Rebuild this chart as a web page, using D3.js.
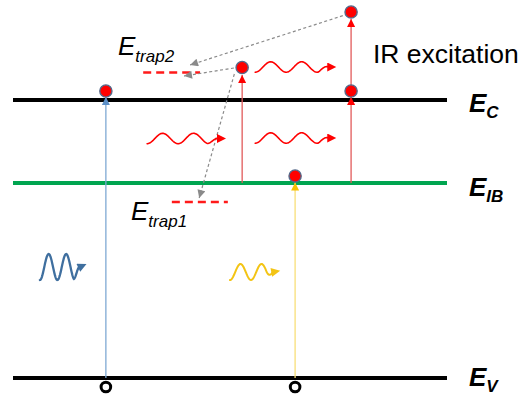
<!DOCTYPE html>
<html><head><meta charset="utf-8">
<script src="https://cdn.jsdelivr.net/npm/d3@7"></script>
<style>body{margin:0;background:#fff} svg{display:block}</style>
</head><body>
<svg id="c" width="522" height="395"></svg>
<script>
// ---------------- data ----------------
const bandSubs   = ["V", "IB", "C"];
const bandEnergy = [0, 1.95, 2.78];

const trapSubs   = ["trap2", "trap1"];
const trapEnergy = [3.055, 1.76];
const trapStart  = [30.0, 36.6];
const trapEnd    = [43.1, 49.5];

const electronX = [21.4, 52.8, 77.9, 77.9, 65.0];
const electronE = [2.87, 3.105, 3.66, 2.87, 2.02];
const holeX = [21.4, 65.0];
const holeE = [-0.09, -0.09];

const excKind = ["blue", "yellow", "red", "red", "red"];
const excX    = [21.4, 65.0, 52.8, 77.9, 77.9];
const excFrom = [0, 0, 1.95, 1.95, 2.87];
const excTo   = [2.81, 1.955, 3.03, 2.81, 3.59];

const relFromX = [77.2, 50.9, 51.0];
const relFromE = [3.64, 3.10, 3.04];
const relToX   = [40.8, 39.4, 42.9];
const relToE   = [3.13, 3.02, 1.80];

const photonKind = ["blue", "yellow", "red", "red", "red"];
const photonX0 = [6.2, 50.0, 55.8, 30.9, 55.8];
const photonX1 = [17.5, 62.0, 74.9, 49.5, 74.9];
const photonE  = [1.11, 1.06, 3.11, 2.395, 2.40];

const irLabel = "IR excitation";

// ---------------- scales ----------------
const x = d3.scaleLinear().domain([0, 100]).range([13, 447]);
const y = d3.scaleLinear().domain([0, 3.78]).range([378, 0]);

const svg = d3.select("#c");
const defs = svg.append("defs");
function marker(id, color, len, wid) {
  defs.append("marker").attr("id", id)
    .attr("viewBox", "0 0 10 10").attr("refX", 10).attr("refY", 5)
    .attr("markerUnits", "userSpaceOnUse")
    .attr("markerWidth", len).attr("markerHeight", wid)
    .attr("orient", "auto")
    .append("path").attr("d", "M0,0 L10,5 L0,10 Z").attr("fill", color);
}
function markerFixed(id, color, len, wid, ang) {
  defs.append("marker").attr("id", id)
    .attr("viewBox", "0 0 10 10").attr("refX", 2).attr("refY", 5)
    .attr("markerUnits", "userSpaceOnUse")
    .attr("markerWidth", len).attr("markerHeight", wid)
    .attr("orient", ang)
    .append("path").attr("d", "M0,0 L10,5 L0,10 Z").attr("fill", color);
}
const excStyle = {
  blue:   {line: "#7fa9d3", head: "#5b8fc7", w: 1.3},
  yellow: {line: "#f8df78", head: "#f5c000", w: 1.3},
  red:    {line: "#e25b5b", head: "#ff0000", w: 1.3}
};
Object.keys(excStyle).forEach(k => marker("exc-" + k, excStyle[k].head, 9, 8));
marker("rel", "#8a8a8a", 10, 8);

const photonStyle = {
  blue:   {color: "#3f6f9f", amp: 13, wl: 17.5, w: 2.3, ang: -25},
  yellow: {color: "#f3c414", amp: 8, wl: 21, w: 2.0, ang: -10},
  red:    {color: "#ff0000", amp: 5.2, wl: 31, w: 1.6, ang: 0}
};
Object.keys(photonStyle).forEach(k => markerFixed("ph-" + k, photonStyle[k].color, 11, 9, photonStyle[k].ang));

// ---------------- bands ----------------
const bandColor = ["#000000", "#00a550", "#000000"];
svg.selectAll("line.band").data(bandEnergy).join("line")
  .attr("class", "band")
  .attr("x1", x(0)).attr("x2", x(100))
  .attr("y1", d => y(d)).attr("y2", d => y(d))
  .attr("stroke", (d, i) => bandColor[i]).attr("stroke-width", 3.8);

// band labels
const bandLabelDy = [8, 13, 12];
bandEnergy.forEach((e, i) => {
  const t = svg.append("text")
    .attr("x", 469).attr("y", y(e) + bandLabelDy[i])
    .attr("font-family", "Liberation Sans, Arial, sans-serif")
    .attr("font-weight", "bold").attr("font-style", "italic")
    .attr("font-size", 26).attr("fill", "#000");
  t.append("tspan").text("E");
  t.append("tspan").attr("dy", 6).attr("font-size", 17).text(bandSubs[i]);
});

// ---------------- traps ----------------
svg.selectAll("line.trap").data(trapEnergy).join("line")
  .attr("class", "trap")
  .attr("x1", (d, i) => x(trapStart[i])).attr("x2", (d, i) => x(trapEnd[i]))
  .attr("y1", d => y(d)).attr("y2", d => y(d))
  .attr("stroke", "#ff1a1a").attr("stroke-width", 2.5)
  .attr("stroke-dasharray", "8,5");

const trapLabelPos = [[118, 55], [131, 220]];
trapSubs.forEach((s, i) => {
  const t = svg.append("text")
    .attr("x", trapLabelPos[i][0]).attr("y", trapLabelPos[i][1])
    .attr("font-family", "Liberation Sans, Arial, sans-serif")
    .attr("font-style", "italic").attr("font-size", 26).attr("fill", "#000");
  t.append("tspan").text("E");
  t.append("tspan").attr("dy", 7).attr("font-size", 17).text(s);
});

// ---------------- excitations (vertical arrows) ----------------
svg.selectAll("line.exc").data(excX).join("line")
  .attr("class", "exc")
  .attr("x1", d => x(d)).attr("x2", d => x(d))
  .attr("y1", (d, i) => y(excFrom[i])).attr("y2", (d, i) => y(excTo[i]))
  .attr("stroke", (d, i) => excStyle[excKind[i]].line)
  .attr("stroke-width", (d, i) => excStyle[excKind[i]].w)
  .attr("marker-end", (d, i) => "url(#exc-" + excKind[i] + ")");

// ---------------- relaxation / trapping (gray dotted arrows) ----------------
svg.selectAll("line.rel").data(relFromX).join("line")
  .attr("class", "rel")
  .attr("x1", d => x(d)).attr("y1", (d, i) => y(relFromE[i]))
  .attr("x2", (d, i) => x(relToX[i])).attr("y2", (d, i) => y(relToE[i]))
  .attr("stroke", "#8a8a8a").attr("stroke-width", 1.2)
  .attr("stroke-dasharray", "3,2.5")
  .attr("marker-end", "url(#rel)");

// ---------------- photons (wavy arrows) ----------------
photonKind.forEach((k, i) => {
  const st = photonStyle[k];
  const px0 = x(photonX0[i]), px1 = x(photonX1[i]) - 9, cy = y(photonE[i]);
  const pts = [];
  const n = 120;
  for (let j = 0; j <= n; j++) {
    const px = px0 + (px1 - px0) * j / n;
    const rem = px1 - px;
    const env = Math.min(1, rem / (st.wl * 0.35));
    pts.push([px, cy + st.amp * env * Math.cos(2 * Math.PI * (px - px0) / st.wl)]);
  }
  svg.append("path").attr("d", d3.line()(pts))
    .attr("fill", "none").attr("stroke", st.color)
    .attr("stroke-width", st.w).attr("stroke-linecap", "round")
    .attr("marker-end", "url(#ph-" + k + ")");
});

// ---------------- carriers ----------------
svg.selectAll("circle.hole").data(holeX).join("circle")
  .attr("class", "hole")
  .attr("cx", d => x(d)).attr("cy", (d, i) => y(holeE[i])).attr("r", 4.8)
  .attr("fill", "#fff").attr("stroke", "#000").attr("stroke-width", 3);

svg.selectAll("circle.el").data(electronX).join("circle")
  .attr("class", "el")
  .attr("cx", d => x(d)).attr("cy", (d, i) => y(electronE[i])).attr("r", 6.1)
  .attr("fill", "#ff0000").attr("stroke", "#55698a").attr("stroke-width", 1.4);

// ---------------- IR label ----------------
svg.append("text").attr("x", 373).attr("y", 63)
  .attr("font-family", "Liberation Sans, Arial, sans-serif")
  .attr("font-size", 26.5).attr("fill", "#000").text(irLabel);
</script>
</body></html>
